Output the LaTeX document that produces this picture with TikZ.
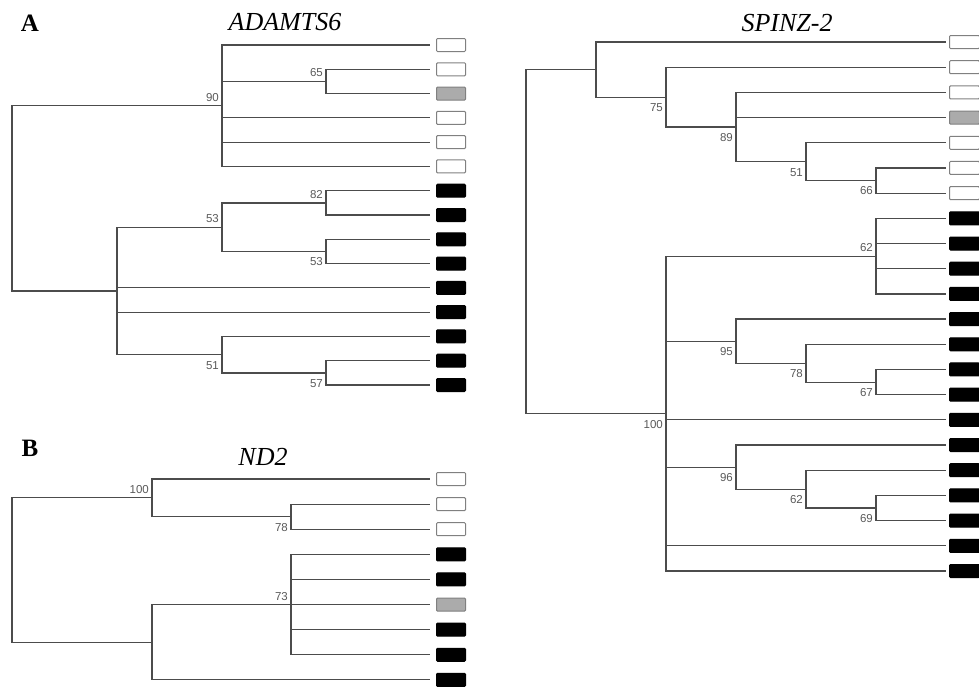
\documentclass[tikz,border=0pt]{standalone}
\usepackage{fontspec}
\setmainfont{Liberation Serif}
\newfontfamily\lblfont{Liberation Sans}
\begin{document}
\begin{tikzpicture}[x=1pt,y=-1pt,
  edge/.style={draw=black!70, line width=1.2pt},
  leafbox/.style={draw=black!50, line width=1pt, minimum width=29pt, minimum height=13pt, inner sep=0pt, rounded corners=1pt, anchor=west},
  wbox/.style={leafbox, fill=white},
  gbox/.style={leafbox, fill=black!33},
  bbox/.style={leafbox, fill=black, draw=black},
  boot/.style={font=\lblfont\fontsize{11.5}{11.5}\selectfont, text=black!65, inner sep=0pt, anchor=east},
  bootup/.style={boot, shift={(-3,-8.5)}},
  bootdn/.style={boot, shift={(-3,10.5)}},
  title/.style={font=\itshape\fontsize{26}{26}\selectfont, inner sep=0pt},
  panel/.style={font=\bfseries\fontsize{25}{25}\selectfont, inner sep=0pt}]
\useasboundingbox (0,0) rectangle (979,686);

% ---------------- titles ----------------
\node[panel] (pA) at (30,23) {A};
\node[panel] (pB) at (30,448) {B};
\node[title] (tA) at (285,22) {ADAMTS6};
\node[title] (tB) at (263,457) {ND2};
\node[title] (tC) at (787,23) {SPINZ-2};

% ---------------- ADAMTS6 ----------------
\foreach \i/\c in {1/wbox,2/wbox,3/gbox,4/wbox,5/wbox,6/wbox,7/bbox,8/bbox,9/bbox,10/bbox,11/bbox,12/bbox,13/bbox,14/bbox,15/bbox}{
  \pgfmathsetmacro\yy{45+(\i-1)*24.286}
  \coordinate (la\i) at (430,\yy);
  \node[\c] (ba\i) at (436,\yy) {};
}
\coordinate (na90) at (222,105.7);
\coordinate (na65) at (326,81.4);
\coordinate (na82) at (326,202.9);
\coordinate (na53b) at (326,251.4);
\coordinate (na53) at (222,227.1);
\coordinate (na57) at (326,372.9);
\coordinate (na51) at (222,354.6);
\coordinate (naL) at (117,290.9);
\coordinate (naR) at (12,198.3);
\foreach \p/\q in {naR/na90,naR/naL,na90/la1,na90/na65,na90/la4,na90/la5,na90/la6,na65/la2,na65/la3,
  naL/na53,naL/la11,naL/la12,naL/na51,na53/na82,na53/na53b,na82/la7,na82/la8,na53b/la9,na53b/la10,
  na51/la13,na51/na57,na57/la14,na57/la15}{
  \draw[edge] (\p) |- (\q);
}
\node[bootup] (ka90) at (na90) {90};
\node[bootup] (ka65) at (na65) {65};
\node[bootup] (ka82) at (na82) {82};
\node[bootup] (ka53) at (na53) {53};
\node[bootdn] (ka53b) at (na53b) {53};
\node[bootdn] (ka51) at (na51) {51};
\node[bootdn] (ka57) at (na57) {57};

% ---------------- ND2 ----------------
\foreach \i/\c in {1/wbox,2/wbox,3/wbox,4/bbox,5/bbox,6/gbox,7/bbox,8/bbox,9/bbox}{
  \pgfmathsetmacro\yy{479+(\i-1)*25.11}
  \coordinate (lb\i) at (430,\yy);
  \node[\c] (bb\i) at (436,\yy) {};
}
\coordinate (nb78) at (291,516.7);
\coordinate (nb100) at (152,497.8);
\coordinate (nb73) at (291,604.6);
\coordinate (nbL) at (152,642.3);
\coordinate (nbR) at (12,570);
\foreach \p/\q in {nbR/nb100,nbR/nbL,nb100/lb1,nb100/nb78,nb78/lb2,nb78/lb3,nbL/nb73,nbL/lb9,
  nb73/lb4,nb73/lb5,nb73/lb6,nb73/lb7,nb73/lb8}{
  \draw[edge] (\p) |- (\q);
}
\node[bootup] (kb100) at (nb100) {100};
\node[bootdn] (kb78) at (nb78) {78};
\node[bootup] (kb73) at (nb73) {73};

% ---------------- SPINZ-2 ----------------
\foreach \i/\c in {1/wbox,2/wbox,3/wbox,4/gbox,5/wbox,6/wbox,7/wbox,8/bbox,9/bbox,10/bbox,11/bbox,12/bbox,13/bbox,14/bbox,15/bbox,16/bbox,17/bbox,18/bbox,19/bbox,20/bbox,21/bbox,22/bbox}{
  \pgfmathsetmacro\yy{42+(\i-1)*25.19}
  \coordinate (lc\i) at (946,\yy);
  \node[\c, minimum width=30pt] (bc\i) at (949,\yy) {};
}
\coordinate (nc66) at (876,180.5);
\coordinate (nc51) at (806,161.6);
\coordinate (nc89) at (736,127.0);
\coordinate (nc75) at (666,97.1);
\coordinate (ncA) at (596,69.6);
\coordinate (nc62a) at (876,256.1);
\coordinate (nc67) at (876,382.1);
\coordinate (nc78) at (806,363.2);
\coordinate (nc95) at (736,341.1);
\coordinate (nc69) at (876,508.0);
\coordinate (nc62b) at (806,489.1);
\coordinate (nc96) at (736,467.1);
\coordinate (nc100) at (666,413.6);
\coordinate (ncR) at (526,241.6);
\foreach \p/\q in {ncR/ncA,ncR/nc100,ncA/lc1,ncA/nc75,nc75/lc2,nc75/nc89,nc89/lc3,nc89/lc4,nc89/nc51,
  nc51/lc5,nc51/nc66,nc66/lc6,nc66/lc7,
  nc100/nc62a,nc100/nc95,nc100/lc16,nc100/nc96,nc100/lc21,nc100/lc22,
  nc62a/lc8,nc62a/lc9,nc62a/lc10,nc62a/lc11,nc95/lc12,nc95/nc78,nc78/lc13,nc78/nc67,nc67/lc14,nc67/lc15,
  nc96/lc17,nc96/nc62b,nc62b/lc18,nc62b/nc69,nc69/lc19,nc69/lc20}{
  \draw[edge] (\p) |- (\q);
}
\node[bootdn] (kc75) at (nc75) {75};
\node[bootdn] (kc89) at (nc89) {89};
\node[bootdn] (kc51) at (nc51) {51};
\node[bootdn] (kc66) at (nc66) {66};
\node[bootup] (kc62a) at (nc62a) {62};
\node[bootdn] (kc95) at (nc95) {95};
\node[bootdn] (kc78) at (nc78) {78};
\node[bootdn] (kc67) at (nc67) {67};
\node[bootdn] (kc100) at (nc100) {100};
\node[bootdn] (kc96) at (nc96) {96};
\node[bootdn] (kc62b) at (nc62b) {62};
\node[bootdn] (kc69) at (nc69) {69};
\end{tikzpicture}
\end{document}
